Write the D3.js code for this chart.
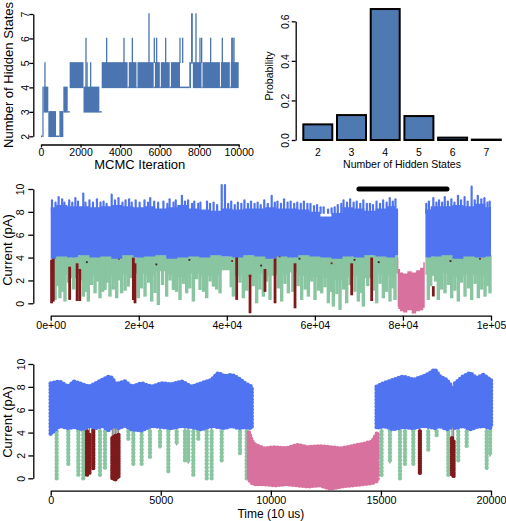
<!DOCTYPE html>
<html><head><meta charset="utf-8">
<script src="https://cdn.jsdelivr.net/npm/d3@7/dist/d3.min.js"></script>
<style>html,body{margin:0;padding:0;background:#fff;} svg{display:block;}</style>
</head><body>
<svg id="chart" width="506" height="521"></svg>
<script>
// ================= DATA =================
// Panel A: MCMC trace of the number of hidden states (dense switching read as blocks)
const traceBlockStart = [0, 70, 130, 370, 760, 930, 1130, 1350, 1450, 2150, 2950, 3070, 4380, 4440, 4830, 4880, 5700, 5760, 6010, 6060, 6510, 6570, 7030, 7500, 7590, 7680, 8120, 8170, 9050, 9100, 9550, 9600];
const traceBlockEnd   = [70, 130, 370, 760, 930, 1130, 1350, 1450, 2150, 2950, 3070, 4380, 4440, 4830, 4880, 5700, 5760, 6010, 6060, 6510, 6570, 7030, 7500, 7590, 7680, 8120, 8170, 9050, 9100, 9550, 9600, 10000];
const traceBlockLow   = [2, 2, 3, 2, 2, 2, 3, 3, 4, 3, 3, 4, 4, 4, 4, 4, 4, 4, 4, 4, 4, 4, 4, 4, 5, 4, 4, 4, 4, 4, 4, 4];
const traceBlockHigh  = [2, 4, 4, 3, 2, 3, 4, 3, 5, 4, 3, 5, 4, 5, 4, 5, 4, 5, 4, 5, 4, 5, 4, 5, 7, 5, 4, 5, 4, 5, 4, 5];
const traceSpikeIter  = [200, 2276, 2330, 2512, 3321, 4198, 4620, 5463, 5732, 5850, 6306, 7030, 7166, 7840, 8042, 8126, 8581, 9171, 9650, 9700, 9762];
const traceSpikeBase  = [4, 4, 4, 4, 5, 5, 5, 5, 5, 5, 5, 5, 5, 5, 5, 5, 5, 5, 5, 5, 5];
const traceSpikeTop   = [5, 6, 5, 5, 6, 6, 6, 7, 6, 6, 6, 6, 6, 7, 6, 6, 6, 6, 6, 6, 6];
const iterTicks = [0, 2000, 4000, 6000, 8000, 10000];
const stateTicks = [2, 3, 4, 5, 6, 7];

// Panel B: posterior probability of number of hidden states
const hiddenStates = ["2", "3", "4", "5", "6", "7"];
const probability = [0.079, 0.126, 0.662, 0.121, 0.012, 0.002];
const probTicks = [0, 0.2, 0.4, 0.6];
const probTickLabels = ["0.0", "0.2", "0.4", "0.6"];

// Panel C: full current trace (envelopes)
const cTime     = [0, 2500, 5000, 7500, 10000, 12500, 15000, 17500, 20000, 22500, 25000, 27500, 30000, 32500, 35000, 37500, 40000, 42500, 45000, 47500, 50000, 52500, 55000, 57500, 60000, 62500, 65000, 67500, 70000, 72500, 75000, 77500, 78900, 82000, 85100, 87500, 90000, 92500, 95000, 97500, 100000];
const cBlueTop  = [8.4, 8.6, 8.5, 8.5, 8.4, 8.5, 8.6, 8.5, 8.4, 8.5, 8.3, 8.4, 8.6, 8.3, 8.2, 8.1, 8.3, 8.2, 8.3, 8.3, 8.4, 8.3, 8.3, 8.2, 8.0, 7.6, 7.9, 8.4, 8.3, 8.1, 8.3, 8.5, 8.3, null, 8.2, 8.5, 8.5, 8.6, 8.5, 8.7, 8.4];
const cBlueBot  = [3.9, 4.1, 4.0, 4.2, 4.0, 4.1, 3.9, 4.2, 4.0, 4.1, 4.2, 3.9, 4.0, 4.1, 4.0, 4.2, 4.1, 4.0, 4.2, 4.1, 3.9, 4.1, 4.0, 4.2, 4.1, 4.0, 3.9, 4.1, 4.0, 4.2, 4.1, 4.0, 4.2, null, 4.0, 4.1, 4.2, 3.9, 4.1, 4.0, 4.1];
const cGreenLow = [2.3, 2.5, 2.2, 2.6, 2.4, 2.7, 2.3, 2.5, 2.6, 2.4, 2.8, 2.5, 2.3, 2.6, 2.4, 2.5, 2.9, 2.4, 2.3, 2.6, 2.4, 2.5, 2.7, 2.4, 2.3, 2.2, 2.0, 2.3, 2.4, 2.2, 2.5, 2.4, 2.6, null, 2.5, 2.4, 2.6, 2.3, 2.5, 2.4, 2.6];
const cPeakTime = [300, 1100, 1800, 2600, 3100, 4200, 4900, 5600, 6200, 7400, 7900, 8800, 9600,
                   10500, 11300, 12000, 12700, 13850, 14600, 15400, 16300, 17000, 17800, 18400, 19300,
                   20200, 21300, 22100, 22600, 23500, 24400, 25600, 26500, 27000, 27900, 28400, 29800,
                   30500, 31200, 32100, 32600, 33500, 34000, 35500, 36200, 37000, 37800, 38840, 39580,
                   40300, 41000, 41800, 42500, 43300, 44000, 44800, 45500, 46300, 47000, 47700, 48500, 49300, 50190,
                   50900, 51500, 52300, 53000, 53800, 54500, 55300, 56000, 56800, 57500, 58300, 59000, 59800,
                   60500, 61300, 62000, 63000, 63800, 64500, 65200, 66000, 66500, 67300, 68000, 68800, 69500,
                   70300, 71000, 71800, 72500, 73200, 74000, 74800, 75500, 76300, 77000, 77700, 78300,
                   85300, 85900, 86900, 87600, 88200, 88900, 89500, 90200, 91000, 91700, 92500, 93200, 94000, 94700, 95600, 96300, 97000, 97800, 98500, 99200, 99700];
const cPeakTop  = [9.0, 8.8, 9.3, 9.1, 8.8, 9.0, 8.8, 9.2, 8.9, 9.6, 8.8, 9.0, 8.8,
                   9.1, 8.8, 8.9, 8.7, 9.5, 9.0, 9.2, 8.8, 9.0, 9.1, 8.8, 9.0,
                   8.8, 9.0, 8.8, 9.2, 8.9, 8.8, 8.9, 8.7, 9.1, 8.8, 9.0, 9.4,
                   8.9, 9.0, 8.7, 8.9, 8.7, 8.8, 8.9, 8.7, 8.8, 8.6, 10.35, 10.35,
                   8.7, 8.9, 8.6, 8.8, 8.7, 9.0, 8.7, 8.9, 8.7, 8.8, 8.6, 9.0, 8.7, 9.4,
                   8.8, 8.9, 8.7, 9.1, 8.8, 8.9, 8.7, 8.8, 8.7, 8.9, 8.7, 8.7, 8.5,
                   8.6, 8.4, 8.4, 8.2, 8.3, 8.4, 8.6, 8.7, 9.0, 8.8, 9.1, 8.8, 8.9,
                   8.7, 9.0, 8.7, 8.7, 8.6, 8.9, 8.7, 9.0, 8.8, 9.2, 8.9, 9.1,
                   8.7, 8.9, 9.2, 8.8, 9.0, 8.8, 9.3, 8.9, 9.1, 8.8, 9.4, 9.0, 9.3, 8.9, 10.2, 9.0, 9.4, 9.1, 9.2, 8.8, 8.9];
const cDipTime  = [1000, 2100, 3250, 7400, 8550, 10070, 11200, 12340, 13470, 14990, 16120, 17640, 19900, 21420, 22940, 24450, 26340, 27860, 29370, 30890, 32400, 33910, 35430, 36940, 38460, 41490, 43750, 46780, 48300, 49810, 52460, 53970, 57000, 58520, 60030, 61540, 63060, 64190, 65710, 67220, 69870, 71010, 74040, 75550, 77060, 78200, 85770, 88040, 89550, 91070, 92580, 94100, 95610, 97120, 98640, 99770,
                   1600, 2700, 4000, 5200, 6900, 8000, 9300, 10700, 11800, 12900, 14200, 15600, 16900, 18200, 20600, 22200, 23700, 25400, 27100, 28600, 30100, 31600, 33100, 34700, 36200, 37700, 41000, 43000, 44500, 46000, 47500, 49000, 51700, 53200, 55000, 56200, 57800, 59300, 60800, 62300, 63600, 65000, 66500, 68000, 69100, 70400, 72000, 73500, 74800, 76300, 77700, 86300, 87400, 88800, 90300, 91800, 93300, 94900, 96400, 97900, 99300];
const cDipMin   = [0.29, 0.44, 0.15, 0.58, 0.15, 0.87, 0.44, 1.17, 0.58, 0.44, 0.87, 1.46, 0.44, 0.58, 0.15, -0.15, 0.58, 1.17, 0.29, 0.87, 0.15, 1.17, 0.44, 1.46, 0.87, 0.58, 0.44, 0.0, 0.58, 0.29, 0.15, 0.87, 0.29, 0.58, 0.29, 0.87, 0.0, -0.29, -0.58, 0.0, 0.15, -0.29, 0.0, 0.44, 0.15, 0.29, 0.29, 0.29, 0.87, 0.44, 0.15, 0.58, 0.29, 0.44, 0.58, 0.87,
                   1.5, 1.0, 1.8, 1.2, 2.0, 1.0, 1.6, 1.9, 1.0, 1.8, 1.2, 2.0, 1.1, 2.2, 1.3, 1.8, 0.9, 1.6, 2.0, 1.0, 1.7, 1.3, 2.1, 1.0, 1.9, 1.2, 1.4, 1.8, 1.1, 1.5, 1.2, 1.9, 1.3, 1.7, 1.0, 1.5, 1.2, 1.9, 1.1, 1.4, 1.0, 0.8, 1.2, 1.6, 1.0, 0.9, 1.5, 1.1, 1.7, 1.0, 1.3, 1.5, 1.9, 1.2, 1.6, 1.1, 1.8, 1.3, 1.7, 1.2, 1.5];
const cRedTime  = [200, 590, 4300, 6000, 6600, 18770, 19150, 42240, 45270, 48670, 50950, 55490, 68360, 72900, 86900];
const cRedTop   = [3.8, 4.0, 3.2, 3.5, 3.0, 4.0, 3.5, 4.2, 2.5, 3.0, 4.5, 3.5, 3.5, 4.0, 1.5];
const cRedMin   = [0.0, 0.15, 0.3, 0.2, 0.2, 0.29, 0.0, 0.3, -0.87, 1.0, 0.0, -0.44, 0.7, 0.2, 0.6];
const cSpeckTime = [3500, 8200, 11500, 15500, 21800, 24000, 28000, 31500, 35800, 41200, 44500, 47800, 52000, 56500, 59500, 63800, 66200, 69000, 71800, 74500, 76800, 87300, 90800, 93800, 97500];
const cSpeckVal  = [4.3, 3.6, 4.5, 3.9, 4.4, 3.4, 4.2, 3.8, 4.5, 3.7, 4.4, 3.3, 4.1, 3.9, 4.4, 3.5, 4.3, 3.8, 4.5, 3.6, 4.2, 4.4, 3.7, 4.3, 3.9];
const cPinkTime = [78800, 79100, 79600, 80500, 81500, 82500, 83500, 84300, 84950];
const cPinkTop  = [4.0, 3.0, 2.7, 2.6, 2.8, 2.7, 2.9, 3.1, 3.6];
const cPinkBot  = [-0.3, -0.5, -0.7, -0.8, -0.6, -0.9, -0.7, -0.6, -0.4];
const zoomWindow = [70000, 90000];
const zoomMarkLevel = 10;
const cTimeTicks = [0, 20000, 40000, 60000, 80000, 100000];
const cTimeTickLabels = ["0e+00", "2e+04", "4e+04", "6e+04", "8e+04", "1e+05"];
const currentTicks = [0, 2, 4, 6, 8, 10];

// Panel D: zoomed current trace
const dTime    = [0, 400, 800, 1050, 1450, 1750, 2050, 2350, 2650, 2800, 2920, 2990, 3070, 3370, 3680, 4130, 4580, 5040, 5490, 5950, 6400, 6850, 7310, 7610, 7910, 8210, 8520, 8820, 9130, 12000, 14806, 15110, 15560, 16020, 16470, 16920, 17230, 17450, 17680, 17980, 18213, 18290, 18365, 18740, 19050, 19350, 19650, 19950, 20000];
const dBlueTop = [8.3, 8.46, 8.0, 8.46, 8.2, 8.0, 8.3, 8.6, 8.9, 8.75, 8.3, null, 8.3, 8.46, 8.0, 8.3, 8.0, 8.3, 8.2, 8.46, 8.0, 8.3, 8.6, 9.2, 8.9, 9.05, 8.75, 8.3, 8.0, null, 8.0, 8.3, 8.6, 8.9, 8.6, 8.9, 9.2, 9.5, 8.9, 8.6, 8.0, null, 8.3, 8.9, 9.2, 8.75, 9.05, 8.6, 8.6];
const dBlueBot = [3.9, 4.6, 4.4, 4.5, 4.3, 4.6, 4.4, 4.6, 4.2, 4.7, 4.5, null, 4.4, 4.6, 4.3, 4.2, 4.6, 4.5, 4.4, 4.6, 4.5, 4.3, 4.6, 4.5, 4.4, 4.6, 4.4, 4.5, 4.4, null, 4.4, 4.6, 4.3, 4.5, 4.4, 4.6, 4.5, 4.4, 4.6, 4.3, 4.5, null, 4.4, 4.6, 4.3, 4.5, 4.6, 4.4, 4.5];
const dDipTime = [270, 800, 1255, 1482, 2240, 2466, 3526, 3753, 4131, 4510, 4965, 5343, 5722, 6100, 6250, 6478, 6705, 7085, 7310, 7767, 8598, 8900, 15030, 15410, 15865, 16092, 16470, 17150, 17530, 18060, 18513, 18895, 19803, 19960];
const dDipMin  = [-0.15, 1.16, 0.29, -0.15, 0.15, 0.87, 3.35, 1.16, 1.16, 1.75, 2.6, 0.58, 2.9, 1.46, 1.3, 0.3, 3.35, 0.0, 0.0, 1.45, 2.2, -0.1, 0.15, 1.3, 0.0, 1.16, 1.16, 2.5, 3.65, 0.29, 1.46, 2.77, 0.73, 1.9];
const dRedTime = [1650, 1760, 1935, 2800, 2870, 2940, 3010, 3080, 16770, 18230, 18300];
const dRedTop  = [4.1, 3.8, 4.2, 3.5, 3.6, 3.7, 3.4, 3.8, 4.1, 3.5, 3.2];
const dRedMin  = [0.29, 0.4, 0.87, -0.1, -0.15, -0.15, 0.0, 0.1, 0.44, 0.29, 0.15];
const dPinkTime = [9000, 9150, 9300, 9700, 10200, 10700, 11200, 11700, 12200, 12700, 13200, 13700, 14200, 14600, 14850];
const dPinkTop  = [4.0, 3.2, 2.9, 2.6, 2.7, 2.6, 2.9, 2.7, 2.8, 2.7, 2.6, 2.8, 3.0, 3.2, 4.0];
const dPinkBot  = [-0.1, -0.4, -0.5, -0.5, -0.6, -0.5, -0.6, -0.7, -0.6, -0.9, -0.7, -0.6, -0.5, -0.4, -0.2];
const dTimeTicks = [0, 5000, 10000, 15000, 20000];

// ================= STYLE =================
const FONT = '"Liberation Sans", Arial, Helvetica, sans-serif';
const TRACE = "#4a75b0", BAR = "#4f79b1";
const BLUE = "#5074f1", GREEN = "#88c5a0", RED = "#7e1a1c", PINK = "#d9719e", GRAY = "#8c8c8c";

const svg = d3.select("#chart");

function styleAxis(g) {
  g.attr("font-family", FONT);
  g.select(".domain").attr("stroke", "#000").attr("stroke-width", 1.3);
  g.selectAll(".tick line").attr("stroke", "#000").attr("stroke-width", 1.3);
  g.selectAll(".tick text").attr("fill", "#000");
}
function xAxis(scale, ticks, labels, yPos, o) {
  const g = svg.append("g").attr("transform", `translate(0,${yPos})`)
    .call(d3.axisBottom(scale).tickValues(ticks).tickFormat((d, i) => labels[i]).tickSizeInner(o.tick).tickSizeOuter(0));
  styleAxis(g);
  g.selectAll(".tick text").attr("font-size", o.fs).attr("y", o.base - yPos).attr("dy", 0);
  if (o.noLine) { g.select(".domain").remove(); g.selectAll(".tick line").remove(); }
  return g;
}
function yAxis(scale, ticks, labels, xPos, o) {
  const g = svg.append("g").attr("transform", `translate(${xPos},0)`)
    .call(d3.axisLeft(scale).tickValues(ticks).tickFormat((d, i) => labels[i]).tickSizeInner(o.tick).tickSizeOuter(0));
  styleAxis(g);
  g.selectAll(".tick text").attr("font-size", o.fs).attr("transform", "rotate(-90)")
    .attr("x", 0).attr("y", -(xPos - o.base)).attr("dy", 0).attr("text-anchor", "middle");
  return g;
}
function title(txt, x, y, fs, rot) {
  svg.append("text").attr("font-family", FONT).attr("font-size", fs).attr("fill", "#000")
    .attr("text-anchor", "middle")
    .attr("transform", rot ? `translate(${x},${y}) rotate(-90)` : `translate(${x},${y})`)
    .text(txt);
}

// ================= PANEL A =================
{
  const x = d3.scaleLinear().domain([0, 10000]).range([41, 238.7]);
  const y = d3.scaleLinear().domain([2, 7]).range([136.3, 14]);
  const g = svg.append("g");
  g.selectAll("rect").data(traceBlockStart).join("rect")
    .attr("x", (d, i) => x(d))
    .attr("width", (d, i) => Math.max(1, x(traceBlockEnd[i]) - x(d)))
    .attr("y", (d, i) => y(traceBlockHigh[i]) - 0.75)
    .attr("height", (d, i) => y(traceBlockLow[i]) - y(traceBlockHigh[i]) + 1.5)
    .attr("fill", TRACE);
  g.selectAll("line").data(traceSpikeIter).join("line")
    .attr("x1", d => x(d)).attr("x2", d => x(d))
    .attr("y1", (d, i) => y(traceSpikeBase[i])).attr("y2", (d, i) => y(traceSpikeTop[i]) - 0.75)
    .attr("stroke", TRACE).attr("stroke-width", 1.3);
  xAxis(x, iterTicks, iterTicks.map(String), 144.5, { tick: 3, fs: 10.5, base: 156 });
  yAxis(y, stateTicks, stateTicks.map(String), 33.3, { tick: 4, fs: 10.5, base: 28.5 });
  title("MCMC Iteration", 139.8, 169, 13, false);
  title("Number of Hidden States", 13, 75, 13, true);
}

// ================= PANEL B =================
{
  const x = d3.scaleBand().domain(hiddenStates).range([300.95, 503.15]).paddingInner(0.14).paddingOuter(0.07);
  const y = d3.scaleLinear().domain([0, 0.6]).range([140, 21.3]);
  svg.append("g").selectAll("rect").data(probability).join("rect")
    .attr("x", (d, i) => x(hiddenStates[i]))
    .attr("width", x.bandwidth())
    .attr("y", d => y(d))
    .attr("height", d => y(0) - y(d))
    .attr("fill", BAR).attr("stroke", "#000").attr("stroke-width", 2);
  xAxis(x, hiddenStates, hiddenStates, 144, { tick: 0, fs: 10.5, base: 156, noLine: true });
  yAxis(y, probTicks, probTickLabels, 295.7, { tick: 4, fs: 10.5, base: 288.5 });
  title("Number of Hidden States", 402, 167.5, 10.5, false);
  title("Probability", 273, 76, 10.5, true);
}

// ================= PANEL C =================
{
  const x = d3.scaleLinear().domain([0, 100000]).range([50.7, 491]);
  const y = d3.scaleLinear().domain([0, 10]).range([303.3, 189]);
  const g = svg.append("g");
  const idx = cTime.map((d, i) => i);
  // green band just under the open level
  g.append("path").datum(idx)
    .attr("d", d3.area().defined(i => cGreenLow[i] != null).curve(d3.curveStep)
      .x(i => x(cTime[i])).y0(i => y(cGreenLow[i])).y1(i => y(cBlueBot[i])))
    .attr("fill", GREEN);
  // green dips
  g.append("g").selectAll("line").data(cDipTime).join("line")
    .attr("x1", d => x(d)).attr("x2", d => x(d))
    .attr("y1", y(4.2)).attr("y2", (d, i) => y(cDipMin[i]))
    .attr("stroke", GREEN).attr("stroke-width", 3.4);
  // dark red dips
  g.append("g").selectAll("line").data(cRedTime).join("line")
    .attr("x1", d => x(d)).attr("x2", d => x(d))
    .attr("y1", (d, i) => y(cRedTop[i])).attr("y2", (d, i) => y(cRedMin[i]))
    .attr("stroke", RED).attr("stroke-width", 2.8);
  // scattered intermediate points
  g.append("g").selectAll("rect").data(cSpeckTime).join("rect")
    .attr("x", d => x(d) - 0.9).attr("y", (d, i) => y(cSpeckVal[i]) - 0.9)
    .attr("width", 1.8).attr("height", 1.8).attr("fill", (d, i) => i % 3 ? "#3a2020" : RED);
  // open level (blue)
  g.append("path").datum(idx)
    .attr("d", d3.area().defined(i => cBlueTop[i] != null).curve(d3.curveStep)
      .x(i => x(cTime[i])).y0(i => y(cBlueBot[i])).y1(i => y(cBlueTop[i])))
    .attr("fill", BLUE);
  g.append("g").selectAll("line").data(cPeakTime).join("line")
    .attr("x1", d => x(d)).attr("x2", d => x(d))
    .attr("y1", y(7.9)).attr("y2", (d, i) => y(cPeakTop[i]))
    .attr("stroke", BLUE).attr("stroke-width", 2.2).attr("stroke-linecap", "round");
  // blocked level (pink)
  const pidx = cPinkTime.map((d, i) => i);
  g.append("path").datum(pidx)
    .attr("d", d3.area().curve(d3.curveStep).x(i => x(cPinkTime[i])).y0(i => y(cPinkBot[i])).y1(i => y(cPinkTop[i])))
    .attr("fill", PINK);
  // zoom window marker
  g.append("line").attr("x1", x(zoomWindow[0])).attr("x2", x(zoomWindow[1]))
    .attr("y1", y(zoomMarkLevel)).attr("y2", y(zoomMarkLevel))
    .attr("stroke", "#000").attr("stroke-width", 5).attr("stroke-linecap", "round");
  xAxis(x, cTimeTicks, cTimeTickLabels, 315.7, { tick: 5, fs: 10.6, base: 329.5 });
  yAxis(y, currentTicks, currentTicks.map(String), 33.3, { tick: 5, fs: 10.5, base: 24 });
  title("Current (pA)", 12, 250, 13, true);
}

// ================= PANEL D =================
{
  const x = d3.scaleLinear().domain([0, 20000]).range([50.7, 491]);
  const y = d3.scaleLinear().domain([0, 10]).range([478.3, 364]);
  const g = svg.append("g");
  const allT = dDipTime.concat(dRedTime), allMin = dDipMin.concat(dRedMin);
  // connecting lines of the trace into the dips
  g.append("g").selectAll("line").data(allT).join("line")
    .attr("x1", d => x(d)).attr("x2", d => x(d))
    .attr("y1", y(5.2)).attr("y2", (d, i) => y(allMin[i]))
    .attr("stroke", GRAY).attr("stroke-width", 1.3);
  // green dips (beaded columns of points)
  g.append("g").selectAll("line").data(dDipTime).join("line")
    .attr("x1", d => x(d)).attr("x2", d => x(d))
    .attr("y1", y(4.1)).attr("y2", (d, i) => y(dDipMin[i]))
    .attr("stroke", GREEN).attr("stroke-width", 4.4).attr("stroke-linecap", "round")
    .attr("stroke-dasharray", "0 3.6");
  // dark red dips
  g.append("g").selectAll("line").data(dRedTime).join("line")
    .attr("x1", d => x(d)).attr("x2", d => x(d))
    .attr("y1", (d, i) => y(dRedTop[i])).attr("y2", (d, i) => y(dRedMin[i]))
    .attr("stroke", RED).attr("stroke-width", 4.4).attr("stroke-linecap", "round")
    .attr("stroke-dasharray", "0 1.8");
  // open level
  const idx = dTime.map((d, i) => i);
  const blueArea = d3.area().defined(i => dBlueTop[i] != null)
    .x(i => x(dTime[i])).y0(i => y(dBlueBot[i])).y1(i => y(dBlueTop[i]));
  g.append("path").datum(idx).attr("d", blueArea).attr("fill", BLUE)
    .attr("stroke", BLUE).attr("stroke-width", 4.6).attr("stroke-linecap", "round")
    .attr("stroke-linejoin", "round").attr("stroke-dasharray", "0 3.4");
  // blocked level
  const pidx = dPinkTime.map((d, i) => i);
  g.append("path").datum(pidx)
    .attr("d", d3.area().x(i => x(dPinkTime[i])).y0(i => y(dPinkBot[i])).y1(i => y(dPinkTop[i])))
    .attr("fill", PINK).attr("stroke", PINK).attr("stroke-width", 4.6).attr("stroke-linecap", "round")
    .attr("stroke-linejoin", "round").attr("stroke-dasharray", "0 3.4");
  xAxis(x, dTimeTicks, dTimeTicks.map(String), 490.7, { tick: 5, fs: 10.8, base: 504.5 });
  yAxis(y, currentTicks, currentTicks.map(String), 33.3, { tick: 5, fs: 10.5, base: 24.5 });
  title("Current (pA)", 12, 422, 13, true);
  title("Time (10 us)", 270.9, 518, 12, false);
}
</script>
</body></html>
